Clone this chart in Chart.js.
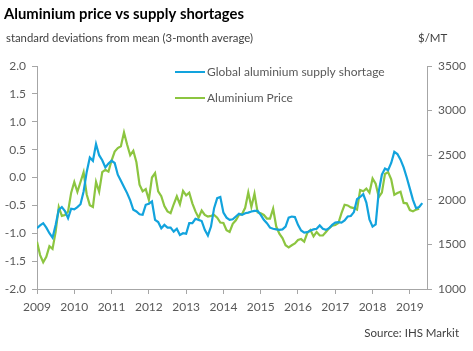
<!DOCTYPE html>
<html>
<head>
<meta charset="utf-8">
<script src="https://cdn.jsdelivr.net/npm/chart.js@4.4.1/dist/chart.umd.min.js"></script>
<style>
  html, body { margin: 0; padding: 0; background: #fff; }
  #wrap { width: 473px; height: 351px; }
</style>
</head>
<body>
<div id="wrap"><canvas id="chart" width="473" height="351"></canvas></div>
<script>
// monthly series, Jan 2009 onwards
const startYear = 2009;

// Global aluminium supply shortage (std devs, left axis)
const shortage = [
  -0.91, -0.86, -0.82, -0.90, -1.00, -1.08, -0.85, -0.58, -0.53, -0.60, -0.73, -0.56,
  -0.57, -0.53, -0.48, -0.25, 0.10, 0.36, 0.30, 0.60, 0.40, 0.31, 0.18, 0.25,
  0.30, 0.26, 0.05, -0.06, -0.17, -0.28, -0.41, -0.58, -0.61, -0.66, -0.67, -0.49,
  -0.47, -0.43, -0.76, -0.80, -0.91, -0.85, -0.90, -0.90, -0.97, -0.92, -1.03, -1.00,
  -1.01, -0.82, -0.82, -0.74, -0.76, -0.78, -0.94, -1.04, -0.88, -0.55, -0.37, -0.35,
  -0.63, -0.72, -0.76, -0.75, -0.70, -0.65, -0.67, -0.64, -0.63, -0.61, -0.60, -0.60,
  -0.67, -0.76, -0.82, -0.90, -0.92, -0.93, -0.94, -0.93, -0.88, -0.72, -0.70, -0.71,
  -0.85, -0.95, -0.99, -0.98, -0.95, -0.93, -0.92, -0.86, -0.92, -0.94, -0.91, -0.85,
  -0.81, -0.80, -0.81, -0.77, -0.70, -0.69, -0.62, -0.39, -0.35, -0.30, -0.45, -0.75,
  -0.88, -0.84, -0.25, 0.05, 0.16, 0.13, 0.26, 0.46, 0.42, 0.32, 0.18, 0.00,
  -0.20, -0.40, -0.55, -0.53, -0.46
];

// Aluminium price ($/MT, right axis)
const price = [
  1530, 1380, 1300, 1360, 1480, 1450, 1640, 1920, 1820, 1830, 1870, 2080,
  2200, 2090, 2200, 2310, 2060, 1940, 1920, 2200, 2090, 2310, 2335, 2315,
  2440, 2540, 2580, 2600, 2756, 2620, 2500, 2550, 2420, 2170, 2095, 2120,
  2000, 2250, 2300, 2094, 2040, 1930, 1870, 1850, 1950, 2040, 1950, 2100,
  2050, 2080, 1960, 1870, 1800, 1880, 1830, 1812, 1820, 1830, 1800, 1745,
  1740, 1660, 1640, 1730, 1770, 1830, 1840, 1910, 2082, 1920, 2070, 1860,
  1850, 1830, 1790, 1790, 1900, 1700, 1620, 1570, 1490, 1467, 1490, 1510,
  1550, 1560, 1530, 1630, 1660, 1590, 1640, 1600, 1600, 1640, 1680, 1710,
  1718, 1740, 1850, 1944, 1937, 1915, 1907, 1890, 2110, 2095, 2125, 2080,
  2240, 2180, 2030, 2080, 2290, 2310, 2230, 2056, 2075, 2090, 1965, 1960,
  1885, 1870, 1890, 1900
];

const seriesNames = ['Global aluminium supply shortage', 'Aluminium Price'];
const seriesColors = ['#12a3dd', '#8cc540'];
const yearTicks = [2009, 2010, 2011, 2012, 2013, 2014, 2015, 2016, 2017, 2018, 2019];

const titleText = 'Aluminium price vs supply shortages';
const subtitleText = 'standard deviations from mean (3-month average)';
const unitText = '$/MT';
const sourceText = 'Source: IHS Markit';

const FONT = 'Lato, "Open Sans", sans-serif';
const GREY = '#595959';
const AXIS = '#a6a6a6';

function toPoints(arr) {
  return arr.map((v, i) => ({ x: startYear + i / 12, y: v }));
}

const textPlugin = {
  id: 'textPlugin',
  afterDraw(chart) {
    const ctx = chart.ctx;
    ctx.save();
    ctx.textBaseline = 'middle';
    ctx.textAlign = 'left';

    ctx.fillStyle = '#000';
    ctx.font = 'bold 15px ' + FONT;
    ctx.fillText(titleText, 4, 14, 240);

    ctx.fillStyle = '#404040';
    ctx.font = '11.5px ' + FONT;
    ctx.fillText(subtitleText, 6, 38, 247);
    ctx.fillText(unitText, 418, 38);

    // legend
    ctx.font = '12px ' + FONT;
    const legY = [72, 98];
    for (let i = 0; i < 2; i++) {
      ctx.strokeStyle = seriesColors[i];
      ctx.lineWidth = 2;
      ctx.beginPath();
      ctx.moveTo(175, legY[i]);
      ctx.lineTo(205, legY[i]);
      ctx.stroke();
      ctx.fillStyle = GREY;
      ctx.fillText(seriesNames[i], 207, legY[i], 186);
    }

    ctx.fillStyle = '#404040';
    ctx.font = '11.5px ' + FONT;
    ctx.textAlign = 'right';
    ctx.fillText(sourceText, 459, 333);
    ctx.restore();
  }
};

new Chart(document.getElementById('chart'), {
  type: 'line',
  data: {
    datasets: [{
      label: seriesNames[0],
      data: toPoints(shortage),
      yAxisID: 'y',
      borderColor: seriesColors[0],
      borderWidth: 2.2,
      pointRadius: 0,
      tension: 0
    }, {
      label: seriesNames[1],
      data: toPoints(price),
      yAxisID: 'y2',
      borderColor: seriesColors[1],
      borderWidth: 2.2,
      pointRadius: 0,
      tension: 0
    }]
  },
  options: {
    responsive: false,
    animation: false,
    layout: { padding: { top: 66, left: 0, right: 0, bottom: 0 } },
    plugins: {
      legend: { display: false },
      tooltip: { enabled: false }
    },
    scales: {
      x: {
        type: 'linear',
        min: 2009,
        max: 2019.46,
        afterBuildTicks(scale) {
          scale.ticks = yearTicks.map(v => ({ value: v }));
        },
        afterFit(scale) { scale.height = 62; },
        ticks: {
          font: { size: 12, family: FONT },
          color: GREY,
          padding: 6,
          maxRotation: 0,
          callback: v => String(v)
        },
        grid: { drawOnChartArea: false, drawTicks: true, tickLength: 5, color: AXIS },
        border: { color: AXIS, width: 1 }
      },
      y: {
        position: 'left',
        min: -2,
        max: 2,
        afterFit(scale) { scale.width = 37; },
        ticks: {
          stepSize: 0.5,
          font: { size: 12, family: FONT },
          color: GREY,
          padding: 6,
          callback: v => v.toFixed(1)
        },
        grid: { drawOnChartArea: false, drawTicks: true, tickLength: 5, color: AXIS },
        border: { color: AXIS, width: 1 }
      },
      y2: {
        position: 'right',
        min: 1000,
        max: 3500,
        afterFit(scale) { scale.width = 46; },
        ticks: {
          stepSize: 500,
          font: { size: 12, family: FONT },
          color: GREY,
          padding: 6,
          callback: v => String(v)
        },
        grid: { drawOnChartArea: false, drawTicks: true, tickLength: 5, color: AXIS },
        border: { color: AXIS, width: 1 }
      }
    }
  },
  plugins: [textPlugin]
});
</script>
</body>
</html>
